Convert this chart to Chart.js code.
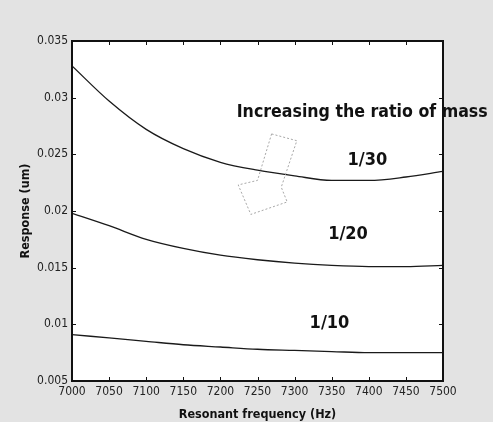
<!DOCTYPE html>
<html>
<head>
<meta charset="utf-8">
<script src="https://cdn.jsdelivr.net/npm/chart.js@4"></script>
<style>
  html, body { margin: 0; padding: 0; background: #e3e3e3; }
  #wrap { width: 493px; height: 422px; }
</style>
</head>
<body>
<div id="wrap"><canvas id="respChart" width="493" height="422"></canvas></div>
<script>
// frequency samples (Hz)
const freqs = [7000, 7050, 7100, 7150, 7200, 7250, 7300, 7350, 7400, 7450, 7500];

// response (um)
const ratio30 = [0.0328, 0.0297, 0.0272, 0.0255, 0.0243, 0.0236, 0.0231, 0.0227, 0.0227, 0.0230, 0.0235];
const ratio20 = [0.0198, 0.0187, 0.0175, 0.0167, 0.0161, 0.0157, 0.0154, 0.0152, 0.0151, 0.0151, 0.0152];
const ratio10 = [0.0091, 0.0088, 0.0085, 0.0082, 0.0080, 0.0078, 0.0077, 0.0076, 0.0075, 0.0075, 0.0075];

const seriesNames = ['1/30', '1/20', '1/10'];

// label anchors in data units [freq, response]
const labelAnchors = [[7398, 0.0245], [7372, 0.0179], [7347, 0.0101]];
const noteText = 'Increasing the ratio of mass';
const noteAnchor = [7222, 0.0287];

// outline arrow, data units
const arrowPts = [
  [7269, 0.0268], [7303, 0.0262], [7282, 0.0221], [7290, 0.0208],
  [7241, 0.0197], [7224, 0.0223], [7250, 0.0227]
];

const toPoints = (vals) => vals.map((v, i) => ({ x: freqs[i], y: v }));

const matlabFrame = {
  id: 'matlabFrame',
  beforeDraw(chart) {
    const { ctx, chartArea: a } = chart;
    ctx.save();
    ctx.fillStyle = '#fff';
    ctx.fillRect(a.left, a.top, a.right - a.left, a.bottom - a.top);
    ctx.restore();
  },
  afterDraw(chart) {
    const { ctx, chartArea: a, scales } = chart;
    const x = scales.x, y = scales.y;
    ctx.save();
    ctx.strokeStyle = '#111';
    ctx.lineWidth = 1;
    x.ticks.forEach(t => {
      const px = Math.round(x.getPixelForValue(t.value)) + 0.5;
      ctx.beginPath();
      ctx.moveTo(px, a.bottom); ctx.lineTo(px, a.bottom - 4);
      ctx.moveTo(px, a.top); ctx.lineTo(px, a.top + 4);
      ctx.stroke();
    });
    y.ticks.forEach(t => {
      const py = Math.round(y.getPixelForValue(t.value)) + 0.5;
      ctx.beginPath();
      ctx.moveTo(a.left, py); ctx.lineTo(a.left + 4, py);
      ctx.moveTo(a.right, py); ctx.lineTo(a.right - 4, py);
      ctx.stroke();
    });
    ctx.lineWidth = 2;
    ctx.strokeRect(a.left, a.top, a.right - a.left, a.bottom - a.top);

    // arrow
    ctx.setLineDash([2, 2]);
    ctx.lineWidth = 1;
    ctx.strokeStyle = '#a8a8a8';
    ctx.beginPath();
    arrowPts.forEach((p, i) => {
      const px = x.getPixelForValue(p[0]), py = y.getPixelForValue(p[1]);
      if (i === 0) ctx.moveTo(px, py); else ctx.lineTo(px, py);
    });
    ctx.closePath();
    ctx.stroke();
    ctx.setLineDash([]);

    // text labels
    ctx.fillStyle = '#111';
    ctx.textBaseline = 'middle';
    ctx.textAlign = 'center';
    ctx.font = 'bold 18px "DejaVu Sans Condensed"';
    seriesNames.forEach((n, i) => {
      ctx.fillText(n, x.getPixelForValue(labelAnchors[i][0]), y.getPixelForValue(labelAnchors[i][1]));
    });
    ctx.textAlign = 'left';
    ctx.font = 'bold 17.6px "DejaVu Sans Condensed"';
    ctx.fillText(noteText, x.getPixelForValue(noteAnchor[0]), y.getPixelForValue(noteAnchor[1]));
    ctx.restore();
  }
};

const lineStyle = {
  borderColor: '#1a1a1a',
  borderWidth: 1.3,
  pointRadius: 0,
  fill: false,
  cubicInterpolationMode: 'monotone'
};

const axisTitleFont = { family: 'DejaVu Sans Condensed', size: 12.5, weight: 'bold' };

new Chart(document.getElementById('respChart').getContext('2d'), {
  type: 'line',
  data: {
    datasets: [
      { label: seriesNames[0], data: toPoints(ratio30), ...lineStyle },
      { label: seriesNames[1], data: toPoints(ratio20), ...lineStyle },
      { label: seriesNames[2], data: toPoints(ratio10), ...lineStyle }
    ]
  },
  options: {
    responsive: false,
    animation: false,
    layout: { padding: { top: 41, right: 50, left: 0, bottom: 0 } },
    plugins: {
      legend: { display: false },
      tooltip: { enabled: false }
    },
    scales: {
      x: {
        type: 'linear',
        min: 7000,
        max: 7500,
        grid: { display: false, drawTicks: false },
        border: { display: false },
        ticks: {
          stepSize: 50,
          padding: 4,
          color: '#222',
          font: { family: 'DejaVu Sans Condensed', size: 12 },
          callback: v => String(v)
        },
        title: {
          display: true,
          text: 'Resonant frequency (Hz)',
          color: '#111',
          padding: { top: 2, bottom: 0 },
          font: axisTitleFont
        },
        afterFit: s => { s.height = 41; }
      },
      y: {
        min: 0.005,
        max: 0.035,
        grid: { display: false, drawTicks: false },
        border: { display: false },
        ticks: {
          stepSize: 0.005,
          padding: 4,
          color: '#222',
          font: { family: 'DejaVu Sans Condensed', size: 12 },
          callback: v => String(Number(v.toFixed(3)))
        },
        title: {
          display: true,
          text: 'Response (um)',
          color: '#111',
          padding: { top: 18, bottom: 4 },
          font: axisTitleFont
        },
        afterFit: s => { s.width = 72; }
      }
    }
  },
  plugins: [matlabFrame]
});
</script>
</body>
</html>
